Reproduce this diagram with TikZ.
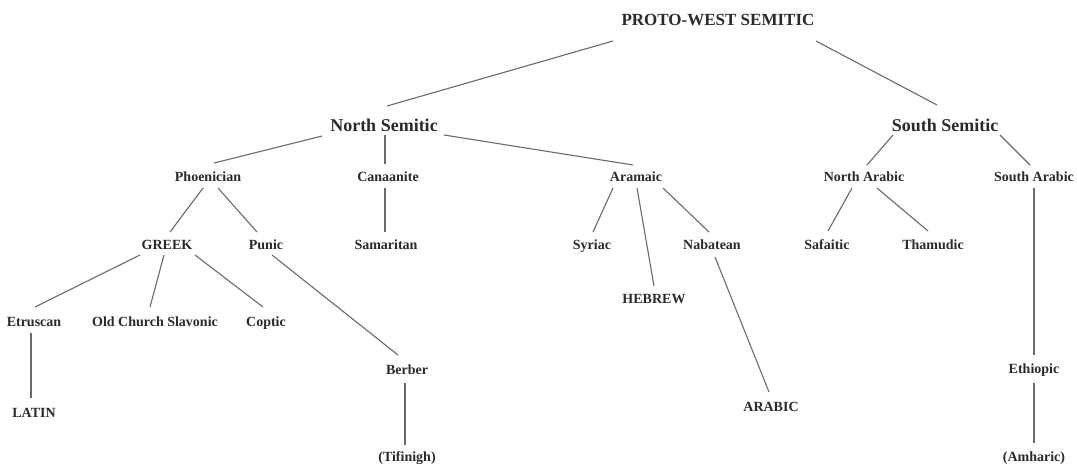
\documentclass[tikz,border=0pt]{standalone}
\usepackage{fontspec}
\setmainfont{Liberation Serif}
\definecolor{inkcol}{HTML}{2A2A2A}
\definecolor{linecol}{HTML}{6A6A6A}
\tikzset{
  lang/.style={inner sep=0pt, text=inkcol,
    font=\bfseries\fontsize{14}{16}\selectfont, text height=9.3pt, text depth=0pt},
  branch/.style={lang, font=\bfseries\fontsize{18}{20}\selectfont, text height=11.9pt},
  root/.style={lang, font=\bfseries\fontsize{17}{19}\selectfont, text height=11.3pt},
  link/.style={draw=linecol, line width=1.1pt}
}
\begin{document}
\begin{tikzpicture}[x=1pt, y=-1pt]
\useasboundingbox[fill=white] (0,0) rectangle (1077,467);

% family nodes
\node[root]   (pws)    at (718,20)  {PROTO-WEST SEMITIC};
\node[branch] (ns)     at (384,126) {North Semitic};
\node[branch] (ss)     at (945,126) {South Semitic};

\node[lang] (phoen)  at (208,177)  {Phoenician};
\node[lang] (canaan) at (388,177)  {Canaanite};
\node[lang] (aram)   at (636,177)  {Aramaic};
\node[lang] (narab)  at (864,177)  {North Arabic};
\node[lang] (sarab)  at (1034,177) {South Arabic};

\node[lang] (greek)  at (167,245) {GREEK};
\node[lang] (punic)  at (266,245) {Punic};
\node[lang] (samar)  at (386,245) {Samaritan};
\node[lang] (syriac) at (592,245) {Syriac};
\node[lang] (nabat)  at (712,245) {Nabatean};
\node[lang] (safa)   at (827,245) {Safaitic};
\node[lang] (thamu)  at (933,245) {Thamudic};

\node[lang] (hebrew) at (654,299) {HEBREW};

\node[lang] (etrus)  at (34,322)  {Etruscan};
\node[lang] (ocs)    at (155,322) {Old Church Slavonic};
\node[lang] (coptic) at (266,322) {Coptic};

\node[lang] (berber) at (407,370)  {Berber};
\node[lang] (ethio)  at (1034,369) {Ethiopic};
\node[lang] (arabic) at (771,407)  {ARABIC};
\node[lang] (latin)  at (34,413)   {LATIN};
\node[lang] (tifin)  at (407,457)  {(Tifinigh)};
\node[lang] (amhar)  at (1034,457) {(Amharic)};

% descent lines
\draw[link] ([shift={(-105,21)}]pws.center) -- ([shift={(3,-20)}]ns.center);
\draw[link] ([shift={(98,21)}]pws.center)   -- ([shift={(-8,-21)}]ss.center);

\draw[link] ([shift={(-62,10)}]ns.center) -- ([shift={(6,-14)}]phoen.center);
\draw[link] ([shift={(1,9)}]ns.center)    -- ([shift={(-3,-13)}]canaan.center);
\draw[link] ([shift={(60,9)}]ns.center)   -- ([shift={(-3,-12)}]aram.center);
\draw[link] ([shift={(-52,9)}]ss.center)  -- ([shift={(3,-12)}]narab.center);
\draw[link] ([shift={(55,9)}]ss.center)   -- ([shift={(-4,-12)}]sarab.center);

\draw[link] ([shift={(-5,11)}]phoen.center)  -- ([shift={(3,-13)}]greek.center);
\draw[link] ([shift={(10,11)}]phoen.center)  -- ([shift={(-9,-13)}]punic.center);
\draw[link] ([shift={(-3,11)}]canaan.center) -- ([shift={(-1,-13)}]samar.center);
\draw[link] ([shift={(-23,11)}]aram.center)  -- ([shift={(1,-13)}]syriac.center);
\draw[link] ([shift={(1,11)}]aram.center)    -- ([shift={(0,-13)}]hebrew.center);
\draw[link] ([shift={(27,11)}]aram.center)   -- ([shift={(-3,-13)}]nabat.center);
\draw[link] ([shift={(-12,11)}]narab.center) -- ([shift={(1,-14)}]safa.center);
\draw[link] ([shift={(13,11)}]narab.center)  -- ([shift={(-5,-14)}]thamu.center);
\draw[link] ([shift={(0,11)}]sarab.center)   -- ([shift={(0,-14)}]ethio.center);

\draw[link] ([shift={(-27,10)}]greek.center) -- ([shift={(1,-15)}]etrus.center);
\draw[link] ([shift={(-3,10)}]greek.center)  -- ([shift={(-5,-15)}]ocs.center);
\draw[link] ([shift={(28,10)}]greek.center)  -- ([shift={(-3,-15)}]coptic.center);
\draw[link] ([shift={(6,10)}]punic.center)   -- ([shift={(-9,-15)}]berber.center);
\draw[link] ([shift={(3,12)}]nabat.center)   -- ([shift={(-2,-15)}]arabic.center);

\draw[link] ([shift={(-3,11)}]etrus.center)  -- ([shift={(-3,-15)}]latin.center);
\draw[link] ([shift={(-2,13)}]berber.center) -- ([shift={(-2,-12)}]tifin.center);
\draw[link] ([shift={(0,14)}]ethio.center)   -- ([shift={(0,-14)}]amhar.center);
\end{tikzpicture}
\end{document}
